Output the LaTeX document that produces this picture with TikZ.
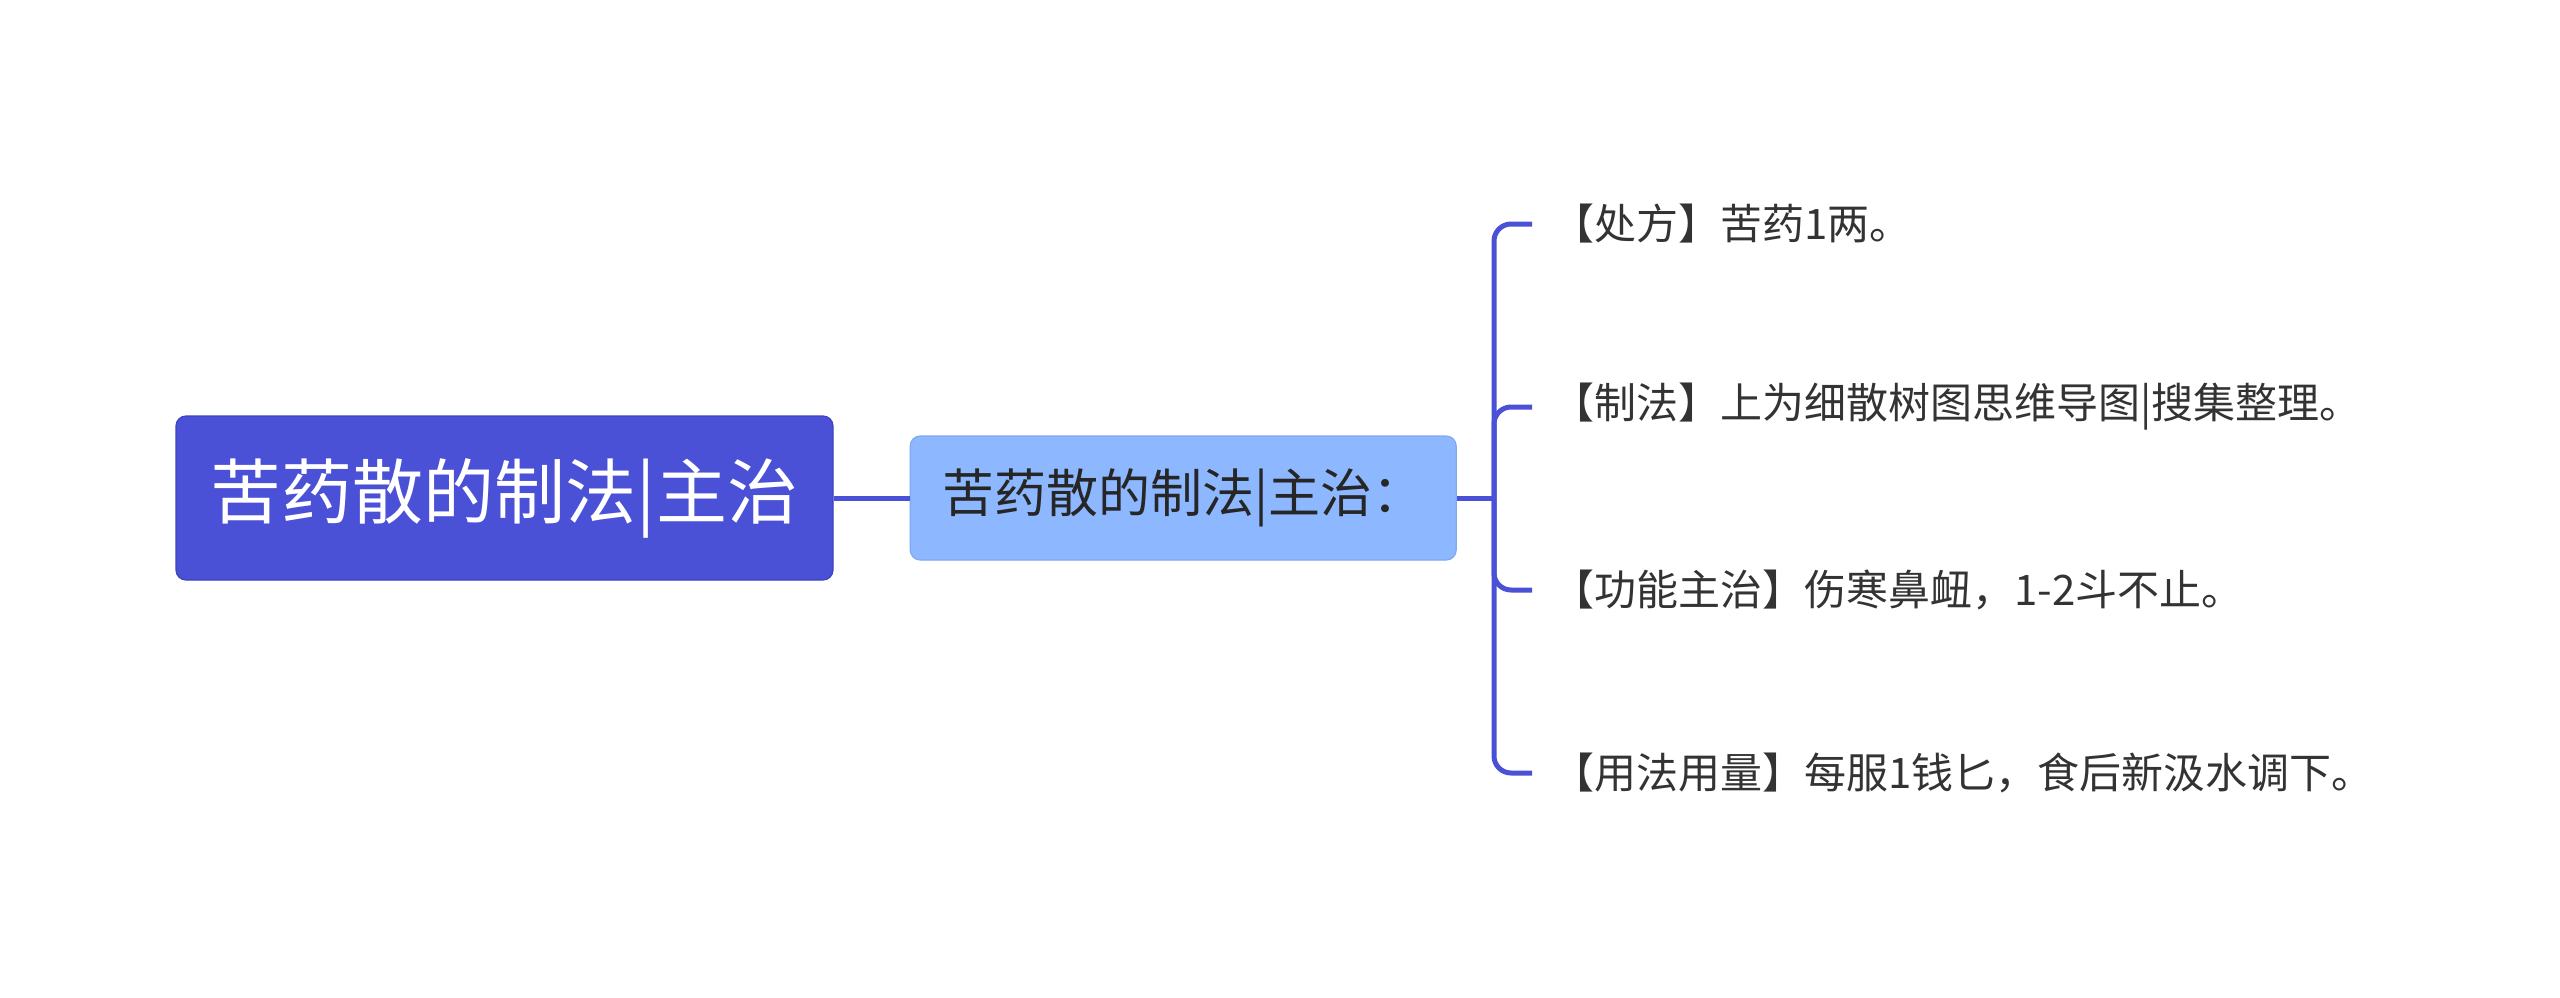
\documentclass[tikz,border=0pt]{standalone}
\usepackage{fontspec}
\newfontfamily\cjk{Noto Sans CJK SC}
\usepackage{xcolor}
\usetikzlibrary{positioning}

\definecolor{rootblue}{HTML}{4A51D6}
\definecolor{rootedge}{HTML}{3D43BE}
\definecolor{subblue}{HTML}{8DB7FE}
\definecolor{subedge}{HTML}{7FA9F2}
\definecolor{linkblue}{HTML}{4A51D6}
\definecolor{leafgray}{HTML}{333333}

\begin{document}
\begin{tikzpicture}[
          x=0.5pt, y=-0.5pt,
          rootbox/.style={rectangle, rounded corners=5pt, fill=rootblue, draw=rootedge, line width=0.6pt,
            text=white, minimum width=328.5pt, minimum height=82pt, font=\cjk\fontsize{35.5}{40}\selectfont},
          subbox/.style={rectangle, rounded corners=5pt, fill=subblue, draw=subedge, line width=0.6pt,
            text=black!85, minimum width=273pt, minimum height=62pt, font=\cjk\fontsize{26}{30}\selectfont},
          leaf/.style={anchor=west, inner xsep=10pt, inner ysep=0pt, text=leafgray, font=\cjk\fontsize{21}{25}\selectfont},
          link/.style={draw=linkblue, line width=2.5pt}
        ]
          \useasboundingbox (0,0) rectangle (2560,997);

          \node[rootbox] (root) at (504.5,498) {苦药散的制法|主治};
          \node[subbox, right=38pt of root] (sub) {苦药散的制法|主治：};

          \coordinate (fork) at (1494,498);
          \node[leaf] (l1) at (1532,224) {【处方】苦药1两。};
          \node[leaf] (l2) at (1532,407) {【制法】上为细散树图思维导图|搜集整理。};
          \node[leaf] (l3) at (1532,590) {【功能主治】伤寒鼻衄，1-2斗不止。};
          \node[leaf] (l4) at (1532,773) {【用法用量】每服1钱匕，食后新汲水调下。};

          \draw[link] (root) -- (sub);
          \draw[link] (sub) -- (fork);
          \foreach \n in {l1,l2,l3,l4}
            \draw[link, rounded corners=8.5pt] (fork) |- (\n.west);
        \end{tikzpicture}
\end{document}
